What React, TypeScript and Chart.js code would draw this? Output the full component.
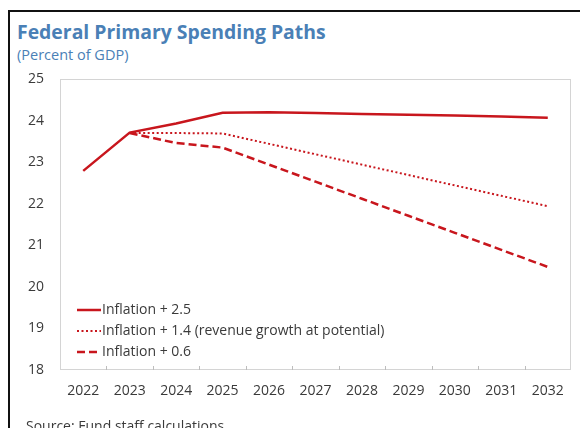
import React, { useEffect, useRef } from "react";
import { Chart, registerables } from "chart.js";

Chart.register(...registerables);

const years = ["2022", "2023", "2024", "2025", "2026", "2027", "2028", "2029", "2030", "2031", "2032"];
const seriesNames = [
  "Inflation + 2.5",
  "Inflation + 1.4 (revenue growth at potential)",
  "Inflation + 0.6",
];
const inflation25 = [22.79, 23.71, 23.93, 24.19, 24.2, 24.18, 24.16, 24.14, 24.12, 24.1, 24.07];
const inflation14 = [null, 23.7, 23.7, 23.69, 23.44, 23.19, 22.94, 22.69, 22.44, 22.19, 21.94];
const inflation06 = [null, 23.7, 23.46, 23.35, 22.94, 22.53, 22.12, 21.71, 21.3, 20.89, 20.48];
const yTicks = [18, 19, 20, 21, 22, 23, 24, 25];

const RED = "#c8161d";
const FONT = "'Open Sans', 'Noto Sans', sans-serif";
const TEXT = "#3a3a3a";

const frameBoxPlugin = {
  id: "frameBox",
  beforeDatasetsDraw(chart: any) {
    const { ctx, chartArea } = chart;
    const x = chart.scales.x;
    ctx.save();
    ctx.strokeStyle = "#d4d4d4";
    ctx.lineWidth = 1;
    ctx.strokeRect(chartArea.left + 0.5, chartArea.top + 0.5, chartArea.right - chartArea.left - 1, chartArea.bottom - chartArea.top - 1);
    ctx.strokeStyle = "#bdbdbd";
    for (let i = 1; i < years.length; i++) {
      const px = Math.round((x.getPixelForValue(i - 1) + x.getPixelForValue(i)) / 2) + 0.5;
      ctx.beginPath();
      ctx.moveTo(px, chartArea.bottom - 4);
      ctx.lineTo(px, chartArea.bottom);
      ctx.stroke();
    }
    ctx.restore();
  },
};

const legendPlugin = {
  id: "insideLegend",
  afterDatasetsDraw(chart: any) {
    const { ctx, chartArea } = chart;
    const rows = [chartArea.bottom - 60, chartArea.bottom - 39, chartArea.bottom - 18];
    ctx.save();
    chart.data.datasets.forEach((ds: any, i: number) => {
      const y = rows[i];
      const x0 = chartArea.left + 17;
      ctx.strokeStyle = ds.borderColor;
      ctx.lineWidth = ds.borderWidth;
      ctx.setLineDash(ds.borderDash || []);
      ctx.beginPath();
      ctx.moveTo(x0, y);
      ctx.lineTo(x0 + 24, y);
      ctx.stroke();
      ctx.setLineDash([]);
      ctx.fillStyle = TEXT;
      ctx.font = `14px ${FONT}`;
      ctx.textBaseline = "middle";
      ctx.textAlign = "left";
      ctx.fillText(ds.label, x0 + 25, y);
    });
    ctx.restore();
  },
};

export default function App() {
  const ref = useRef<HTMLCanvasElement | null>(null);
  useEffect(() => {
    if (!ref.current) return;
    const chart = new Chart(ref.current, {
      type: "line",
      data: {
        labels: years,
        datasets: [
          { label: seriesNames[0], data: inflation25, borderColor: RED, borderWidth: 2.5, pointRadius: 0, fill: false, tension: 0 },
          { label: seriesNames[1], data: inflation14, borderColor: RED, borderWidth: 2, borderDash: [2, 2.5], pointRadius: 0, fill: false, tension: 0 },
          { label: seriesNames[2], data: inflation06, borderColor: RED, borderWidth: 2.5, borderDash: [8, 4], pointRadius: 0, fill: false, tension: 0 },
        ],
      },
      options: {
        animation: false,
        responsive: false,
        maintainAspectRatio: false,
        layout: { padding: { left: 0, top: 79, right: 9, bottom: 0 } },
        plugins: { legend: { display: false }, tooltip: { enabled: false }, title: { display: false } },
        scales: {
          x: {
            type: "category",
            offset: true,
            grid: { display: false, drawTicks: false },
            border: { display: false },
            ticks: { color: TEXT, font: { family: FONT, size: 14 }, padding: 13, maxRotation: 0, autoSkip: false },
            afterFit: (s: any) => { s.height = 58; },
          },
          y: {
            min: 18,
            max: 25,
            grid: { display: false, drawTicks: false },
            border: { display: false },
            afterBuildTicks: (s: any) => { s.ticks = yTicks.map((v) => ({ value: v })); },
            ticks: { color: TEXT, font: { family: FONT, size: 14 }, padding: 16 },
            afterFit: (s: any) => { s.width = 60; },
          },
        },
      },
      plugins: [frameBoxPlugin, legendPlugin],
    });
    return () => chart.destroy();
  }, []);

  return (
    <div style={{ position: "fixed", left: 0, top: 0, width: 580, height: 428, overflow: "hidden", background: "#fff" }}>
      <div style={{ position: "absolute", left: 8, top: 10, width: 700, height: 600, borderLeft: "2px solid #111", borderTop: "2px solid #111" }} />
      <div style={{ position: "absolute", left: 17, top: 19, fontFamily: FONT, fontWeight: 700, fontSize: 19.4, color: "#4a80b6", whiteSpace: "nowrap", lineHeight: "26px" }}>
        Federal Primary Spending Paths
      </div>
      <div style={{ position: "absolute", left: 17, top: 46, fontFamily: FONT, fontSize: 14.5, color: "#4a80b6", whiteSpace: "nowrap", lineHeight: "18px" }}>
        (Percent of GDP)
      </div>
      <canvas ref={ref} width={580} height={428} style={{ position: "absolute", left: 0, top: 0, width: 580, height: 428 }} />
      <div style={{ position: "absolute", left: 26, top: 416, fontFamily: FONT, fontSize: 14, color: TEXT, whiteSpace: "nowrap", lineHeight: "20px" }}>
        Source: Fund staff calculations
      </div>
    </div>
  );
}
